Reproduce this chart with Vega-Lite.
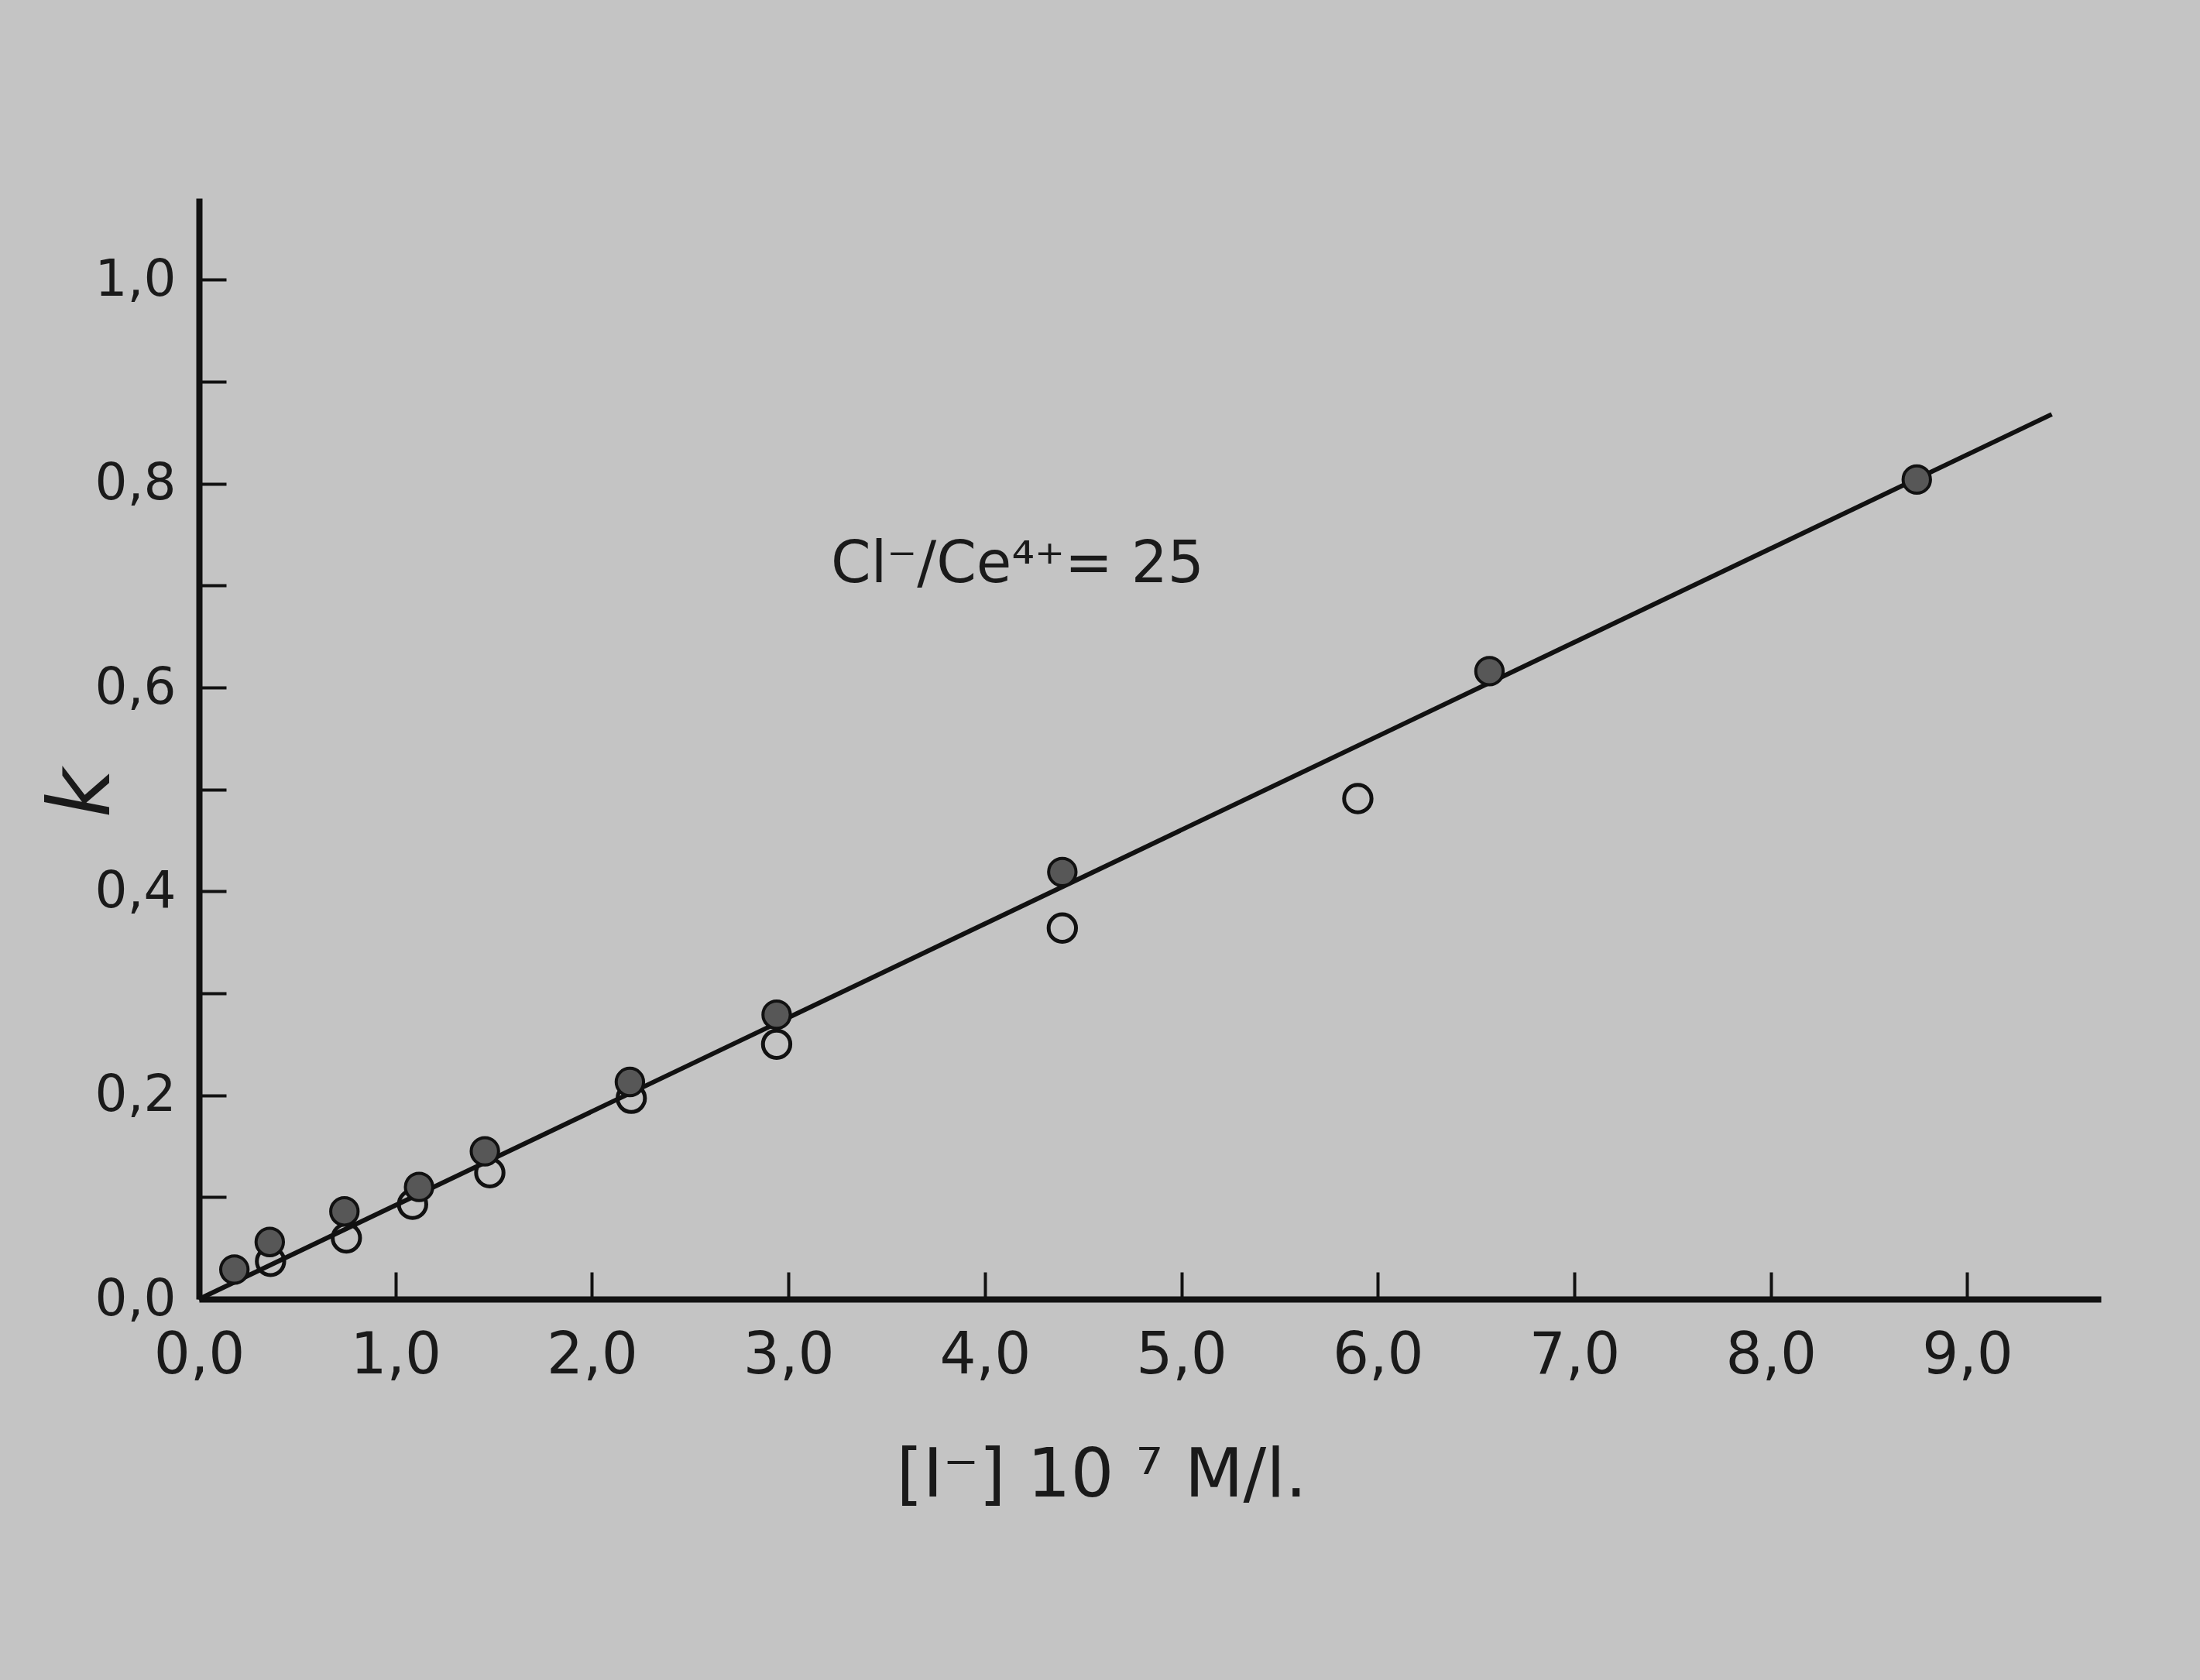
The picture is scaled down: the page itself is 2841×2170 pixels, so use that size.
{
  "$schema": "https://vega.github.io/schema/vega-lite/v6.json",
  "width": 2456,
  "height": 1422,
  "autosize": {"type": "none"},
  "padding": {"left": 257, "top": 256, "right": 128, "bottom": 492},
  "background": "#c4c4c4",
  "config": {
    "view": {"stroke": null},
    "axis": {
      "grid": false,
      "domainColor": "#111111",
      "domainWidth": 8,
      "tickColor": "#111111",
      "tickWidth": 4,
      "tickSize": -35,
      "labelFont": "DejaVu Sans",
      "labelColor": "#1a1a1a",
      "titleFont": "DejaVu Sans",
      "titleColor": "#1a1a1a",
      "titleFontWeight": "normal"
    }
  },
  "datasets": {
    "points": [
      {"conc": 0.18, "k": 0.029, "series": "filled"},
      {"conc": 0.36, "k": 0.056, "series": "filled"},
      {"conc": 0.74, "k": 0.086, "series": "filled"},
      {"conc": 1.12, "k": 0.110, "series": "filled"},
      {"conc": 1.455, "k": 0.145, "series": "filled"},
      {"conc": 2.193, "k": 0.213, "series": "filled"},
      {"conc": 2.94, "k": 0.279, "series": "filled"},
      {"conc": 4.394, "k": 0.419, "series": "filled"},
      {"conc": 6.568, "k": 0.616, "series": "filled"},
      {"conc": 8.743, "k": 0.804, "series": "filled"},
      {"conc": 0.364, "k": 0.037, "series": "open"},
      {"conc": 0.75, "k": 0.060, "series": "open"},
      {"conc": 1.087, "k": 0.093, "series": "open"},
      {"conc": 1.48, "k": 0.124, "series": "open"},
      {"conc": 2.2, "k": 0.197, "series": "open"},
      {"conc": 2.94, "k": 0.250, "series": "open"},
      {"conc": 4.394, "k": 0.364, "series": "open"},
      {"conc": 5.898, "k": 0.491, "series": "open"}
    ],
    "fit": [
      {"conc": 0.0, "k": 0.0},
      {"conc": 9.43, "k": 0.868}
    ],
    "note": [
      {"conc": 3.216, "k": 0.703, "label": "Cl⁻/Ce⁴⁺= 25"}
    ]
  },
  "layer": [
    {
      "data": {"name": "fit"},
      "mark": {"type": "line", "color": "#111111", "strokeWidth": 6},
      "encoding": {
        "x": {
          "field": "conc", "type": "quantitative",
          "scale": {"domain": [0, 9.68], "nice": false, "zero": false},
          "axis": {
            "values": [0, 1, 2, 3, 4, 5, 6, 7, 8, 9],
            "labelExpr": "replace(format(datum.value, '.1f'), '.', ',')",
            "labelFontSize": 74,
            "labelPadding": 72,
            "labelFlush": false,
            "title": "[I⁻] 10  ⁷ M/l.",
            "titleFontSize": 88,
            "titleX": 1165,
            "titleY": 228,
            "titleBaseline": "middle",
            "titleAlign": "center"
          }
        },
        "y": {
          "field": "k", "type": "quantitative",
          "scale": {"domain": [0, 1.08], "nice": false, "zero": false},
          "axis": {
            "values": [0, 0.1, 0.2, 0.3, 0.4, 0.5, 0.6, 0.7, 0.8, 0.9, 1.0],
            "labelExpr": "(round(datum.value * 10) % 2 == 0) ? replace(format(datum.value, '.1f'), '.', ',') : ''",
            "labelFontSize": 66,
            "labelPadding": 65,
            "labelFlush": false,
            "title": "k",
            "titleFontSize": 110,
            "titleFontStyle": "italic",
            "titleAngle": -90,
            "titleX": -150,
            "titleY": 768,
            "titleBaseline": "middle",
            "titleAlign": "center"
          }
        }
      }
    },
    {
      "data": {"name": "points"},
      "transform": [{"filter": "datum.series == 'open'"}],
      "mark": {"type": "point", "shape": "circle", "filled": false, "stroke": "#111111", "strokeWidth": 5, "size": 1250, "opacity": 1},
      "encoding": {
        "x": {"field": "conc", "type": "quantitative"},
        "y": {"field": "k", "type": "quantitative"}
      }
    },
    {
      "data": {"name": "points"},
      "transform": [{"filter": "datum.series == 'filled'"}],
      "mark": {"type": "point", "shape": "circle", "filled": true, "fill": "#575757", "stroke": "#111111", "strokeWidth": 4, "size": 1250, "opacity": 1},
      "encoding": {
        "x": {"field": "conc", "type": "quantitative"},
        "y": {"field": "k", "type": "quantitative"}
      }
    },
    {
      "data": {"name": "note"},
      "mark": {"type": "text", "font": "DejaVu Sans", "fontSize": 74, "align": "left", "baseline": "alphabetic", "color": "#1a1a1a"},
      "encoding": {
        "x": {"field": "conc", "type": "quantitative"},
        "y": {"field": "k", "type": "quantitative"},
        "text": {"field": "label"}
      }
    }
  ]
}
